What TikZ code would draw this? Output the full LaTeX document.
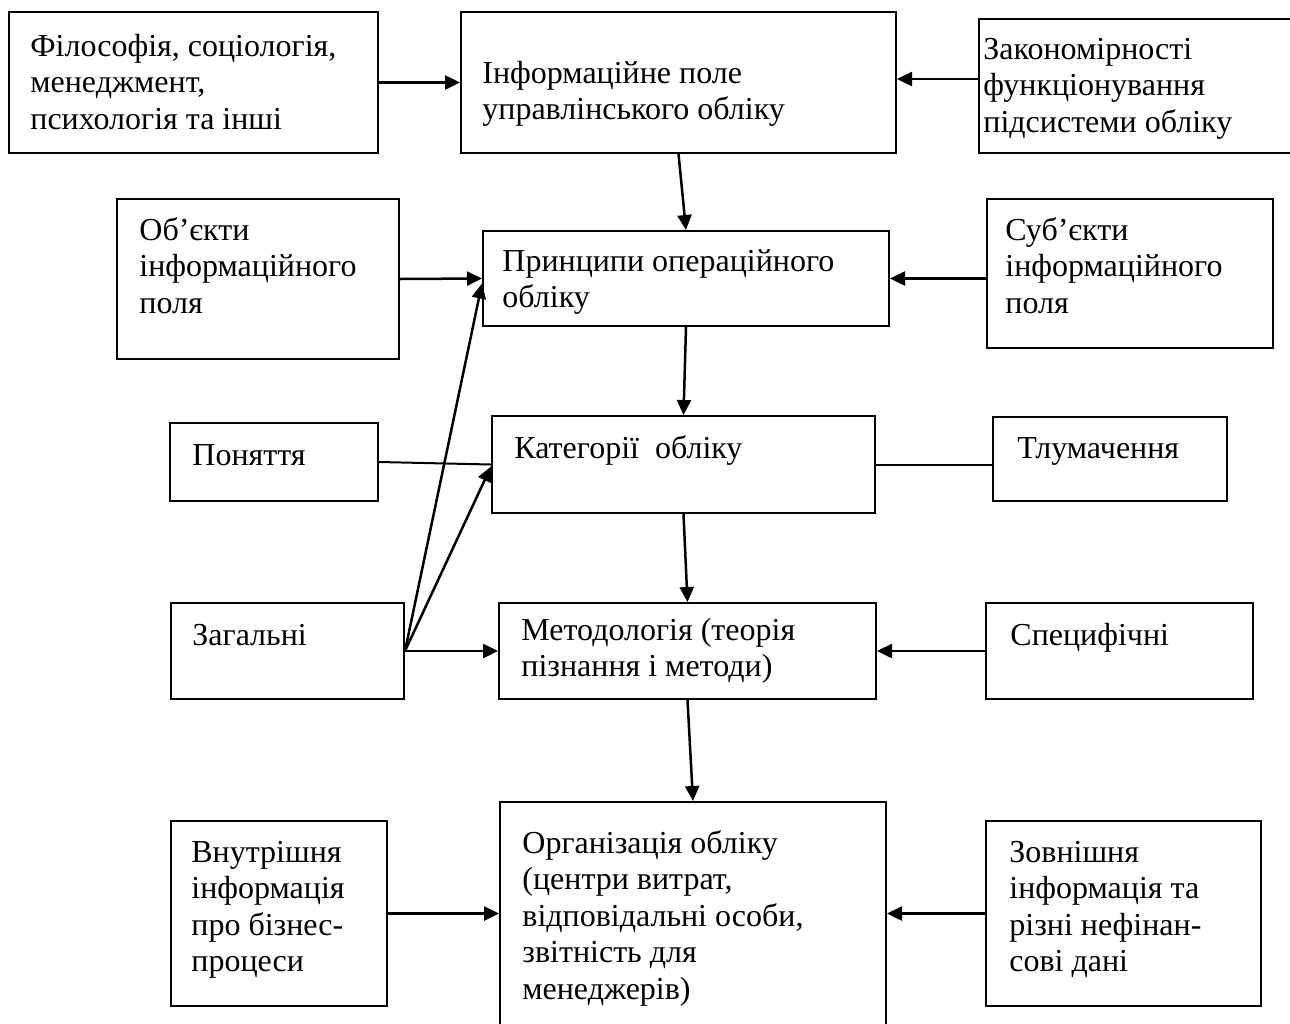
\documentclass[tikz,border=0pt]{standalone}
\usepackage{fontspec}
\setmainfont{Liberation Serif}
\usetikzlibrary{arrows.meta,fit,calc}
% left-aligned block of lines whose baseline is the first line's
\newcommand\boxtext[1]{\begin{tabular}[t]{@{}l@{}}#1\end{tabular}}
\begin{document}
\begin{tikzpicture}[x=0.5pt,y=-0.5pt,
  box/.style={draw, line width=1pt, inner sep=0pt, rectangle},
  lbl/.style={anchor=base west, inner sep=0pt, font=\fontsize{16}{18.25}\selectfont},
  arr/.style={line width=1.25pt, -{Triangle[length=7.5pt,width=7pt]}},
  link/.style={line width=1pt}]
\clip (0,0) rectangle (1290,1023);
\fill[white] (0,0) rectangle (1290,1023);

% frames
\node[box, fit={(9,12) (378,153)}] (b1) {};
\node[box, fit={(461,12) (896,153)}] (b2) {};
\node[box, fit={(979,19) (1294,153)}] (b3) {};
\node[box, fit={(117,199) (399,359)}] (b4) {};
\node[box, fit={(483,231) (889,326)}] (b5) {};
\node[box, fit={(987,199) (1273,348)}] (b6) {};
\node[box, fit={(170,423) (378,501)}] (b7) {};
\node[box, fit={(492,416) (875,513)}] (b8) {};
\node[box, fit={(993,417) (1227,501)}] (b9) {};
\node[box, fit={(171,603) (404,699)}] (b10) {};
\node[box, fit={(499,603) (876,699)}] (b11) {};
\node[box, fit={(986,603) (1253,699)}] (b12) {};
\node[box, fit={(171,821) (387,1006)}] (b13) {};
\node[box, fit={(500,802) (886,1045)}] (b14) {};
\node[box, fit={(986,821) (1261,1006)}] (b15) {};

% texts
\node[lbl] (t1) at (30,56) {\boxtext{Філософія, соціологія,\\менеджмент,\\психологія та інші}};
\node[lbl] (t2) at (482,83) {\boxtext{Інформаційне поле\\управлінського обліку}};
\node[lbl] (t3) at (983,59) {\boxtext{Закономірності\\функціонування\\підсистеми обліку}};
\node[lbl] (t4) at (139,240) {\boxtext{Об’єкти\\інформаційного\\поля}};
\node[lbl] (t5) at (502,271) {\boxtext{Принципи операційного\\обліку}};
\node[lbl] (t6) at (1005,240) {\boxtext{Суб’єкти\\інформаційного\\поля}};
\node[lbl] (t7) at (192,465) {Поняття};
\node[lbl] (t8) at (514,458) {Категорії\ \ обліку};
\node[lbl] (t9) at (1017,458) {Тлумачення};
\node[lbl] (t10) at (192,645) {Загальні};
\node[lbl] (t11) at (521,640) {\boxtext{Методологія (теорія\\пізнання і методи)}};
\node[lbl] (t12) at (1010,645) {Специфічні};
\node[lbl] (t13) at (191,862) {\boxtext{Внутрішня\\інформація\\про бізнес-\\процеси}};
\node[lbl] (t14) at (522,853) {\boxtext{Організація обліку\\(центри витрат,\\відповідальні особи,\\звітність для\\менеджерів)}};
\node[lbl] (t15) at (1009,862) {\boxtext{Зовнішня\\інформація та\\різні нефінан-\\сові дані}};

% connectors
\draw[arr] (b1.east) -- (b2.west);
\draw[arr] ($(b3.west)+(0,-7)$) -- ($(b2.east)+(0,-3.5)$);
\draw[arr] (b2.south) -- (b5.north);
\draw[arr] (b4.east) -- (b5.west);
\draw[arr] (b6.west |- b5.east) -- (b5.east);
\draw[arr] (b5.south) -- (b8.north);
\draw[link] (b7.east) -- (b8.west);
\draw[link] (b8.east) -- (b8.east -| b9.west);
\draw[arr] (b8.south) -- (b11.north);
\draw[arr] (b10.east) -- (b11.west);
\draw[arr] (b12.west) -- (b11.east);
\draw[arr] (b10.east) -- ($(b5.west)+(0,5)$);
\draw[arr] (b10.east) -- ($(b8.west)+(0,2)$);
\draw[arr] (b11.south) -- (b14.north);
\draw[arr] (b13.east) -- (b13.east -| b14.west);
\draw[arr] (b15.west) -- (b15.west -| b14.east);
\end{tikzpicture}
\end{document}
